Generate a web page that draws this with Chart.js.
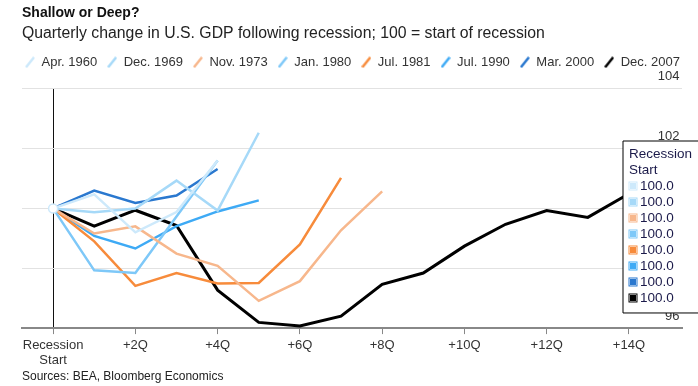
<!DOCTYPE html>
<html>
<head>
<meta charset="utf-8">
<script src="https://cdn.jsdelivr.net/npm/chart.js@4/dist/chart.umd.min.js"></script>
<style>
  html, body { margin: 0; padding: 0; background: #fff; overflow: hidden; }
  /* canvas wider than the window so the tooltip gets cut at the right edge */
  #wrap { position: relative; width: 760px; height: 386px; }
  #sources { position: absolute; left: 22px; top: 369px; font: 12px "Liberation Sans", Arial, sans-serif; color: #222; }
</style>
</head>
<body>
<div id="wrap">
  <canvas id="chart"></canvas>
  <div id="sources">Sources: BEA, Bloomberg Economics</div>
</div>
<script>
// quarters after the start of the recession
const quarters = [0, 1, 2, 3, 4, 5, 6, 7, 8, 9, 10, 11, 12, 13, 14]
const xTicks = [0, 2, 4, 6, 8, 10, 12, 14]
const xTickLabels = [["Recession", "Start"], "+2Q", "+4Q", "+6Q", "+8Q", "+10Q", "+12Q", "+14Q"]
const yTicks = [96, 98, 100, 102, 104]

const recessions = ["Apr. 1960", "Dec. 1969", "Nov. 1973", "Jan. 1980", "Jul. 1981", "Jul. 1990", "Mar. 2000", "Dec. 2007"]
const colors = ["#cde9fb", "#a6d9f8", "#f7b78c", "#7ec8f8", "#f78b3b", "#3eaaf5", "#2a78cf", "#000000"]

// GDP, 100 = start of recession
const apr1960 = [100, 100.47, 99.2, 99.88, 101.6]
const dec1969 = [100, 99.87, 100.0, 100.93, 99.93, 102.53]
const nov1973 = [100, 99.16, 99.4, 98.49, 98.08, 96.91, 97.57, 99.27, 100.57]
const jan1980 = [100, 97.93, 97.84, 99.73, 101.6]
const jul1981 = [100, 98.9, 97.41, 97.84, 97.49, 97.51, 98.8, 101.02]
const jul1990 = [100, 99.08, 98.66, 99.41, 99.9, 100.27]
const mar2000 = [100, 100.6, 100.18, 100.43, 101.32]
const dec2007 = [100, 99.41, 99.94, 99.43, 97.27, 96.19, 96.07, 96.4, 97.46, 97.84, 98.74, 99.47, 99.93, 99.7, 100.49]

const series = [apr1960, dec1969, nov1973, jan1980, jul1981, jul1990, mar2000, dec2007]

const font = "'Liberation Sans', Arial, sans-serif"

// ukośna kreska jako ikonka legendy
function slashIcon(color) {
    const c = document.createElement("canvas")
    c.width = 10
    c.height = 12
    const ctx = c.getContext("2d")
    ctx.strokeStyle = color
    ctx.lineWidth = 2.5
    ctx.beginPath()
    ctx.moveTo(1, 11)
    ctx.lineTo(9, 1)
    ctx.stroke()
    return c
}
const icons = colors.map(slashIcon)

// legend in one row, a bit more to the left, and extra space under it
const legendTweak = {
    id: "legendTweak",
    beforeInit(chart) {
        const fit = chart.legend.fit
        chart.legend.fit = function () {
            this.maxWidth = 720
            fit.bind(chart.legend)()
            this.height += 10
        }
    },
    afterLayout(chart) {
        chart.legend.left = 15
        chart.legend.right = 735
    }
}

Chart.Tooltip.positioners.rightSide = function () {
    return { x: 623, y: 141 }
}

const datasets = series.map((values, i) => ({
    label: recessions[i],
    data: values.map((v, q) => ({ x: quarters[q], y: v })),
    borderColor: colors[i],
    backgroundColor: colors[i],
    borderWidth: i === 7 ? 3 : 2.5,
    pointRadius: 0,
    pointHoverRadius: 4.5,
    pointHoverBorderWidth: 1.5,
    pointHoverBackgroundColor: "#fff",
    pointHoverBorderColor: colors[i],
    tension: 0
}))

const chart = new Chart(document.getElementById("chart"), {
    type: "line",
    data: { datasets },
    plugins: [legendTweak],
    options: {
        responsive: true,
        maintainAspectRatio: false,
        animation: false,
        events: [],
        layout: { padding: { left: 22, right: 78, top: 5, bottom: 14 } },
        plugins: {
            title: {
                display: true,
                text: "Shallow or Deep?",
                align: "start",
                color: "#111",
                font: { family: font, size: 14, weight: "bold" },
                padding: { top: 0, bottom: 2 }
            },
            subtitle: {
                display: true,
                text: "Quarterly change in U.S. GDP following recession; 100 = start of recession",
                align: "start",
                color: "#222",
                font: { family: font, size: 15.8 },
                padding: { top: 0, bottom: 3 }
            },
            legend: {
                position: "top",
                align: "start",
                labels: {
                    usePointStyle: true,
                    pointStyleWidth: 10,
                    padding: 10,
                    color: "#333",
                    font: { family: font, size: 13 },
                    generateLabels(chart) {
                        const items = Chart.defaults.plugins.legend.labels.generateLabels(chart)
                        items.forEach((item, i) => { item.pointStyle = icons[i] })
                        return items
                    }
                }
            },
            tooltip: {
                enabled: true,
                position: "rightSide",
                xAlign: "left",
                yAlign: "top",
                caretSize: 0,
                caretPadding: 0,
                cornerRadius: 0,
                backgroundColor: "#fff",
                borderColor: "#000",
                borderWidth: 1,
                titleColor: "#1b1a4a",
                bodyColor: "#1b1a4a",
                titleFont: { family: font, size: 13.5, weight: "normal", lineHeight: 1.0 },
                bodyFont: { family: font, size: 13.5, lineHeight: 1.185 },
                titleMarginBottom: 1,
                bodySpacing: 0,
                padding: { top: 7, bottom: 7, left: 6, right: 12 },
                boxWidth: 8,
                boxHeight: 8,
                boxPadding: 1,
                multiKeyBackground: "#fff",
                callbacks: {
                    title: () => ["Recession", "Start"],
                    label: (ctx) => ctx.parsed.y.toFixed(1),
                    labelColor: (ctx) => ({ borderColor: colors[ctx.datasetIndex], backgroundColor: colors[ctx.datasetIndex] })
                }
            }
        },
        scales: {
            x: {
                type: "linear",
                min: -0.756,
                max: 15.29,
                afterBuildTicks(scale) {
                    scale.ticks = xTicks.map(v => ({ value: v }))
                },
                ticks: {
                    autoSkip: false,
                    maxRotation: 0,
                    padding: 4,
                    color: "#333",
                    font: { family: font, size: 13, lineHeight: 1.15 },
                    callback: (v) => xTickLabels[xTicks.indexOf(v)]
                },
                grid: {
                    color: (ctx) => ctx.tick && ctx.tick.value === 0 ? "#111" : "rgba(0,0,0,0)",
                    lineWidth: 1,
                    tickColor: "#888",
                    tickLength: 6
                },
                border: { display: true, color: "#888", width: 2 }
            },
            y: {
                position: "right",
                min: 96,
                max: 104,
                afterBuildTicks(scale) {
                    scale.ticks = yTicks.map(v => ({ value: v }))
                },
                ticks: {
                    mirror: true,
                    padding: -2.5,
                    labelOffset: -12,
                    color: "#333",
                    font: { family: font, size: 13 }
                },
                grid: { color: "#e2e2e2", lineWidth: 1, drawTicks: false },
                border: { display: false }
            }
        }
    }
})

// podświetlamy punkt startowy i pokazujemy tooltip
const active = series.map((s, i) => ({ datasetIndex: i, index: 0 }))
chart.setActiveElements([{ datasetIndex: 0, index: 0 }])
chart.tooltip.setActiveElements(active, { x: 53, y: 208 })
chart.update()
</script>
</body>
</html>
